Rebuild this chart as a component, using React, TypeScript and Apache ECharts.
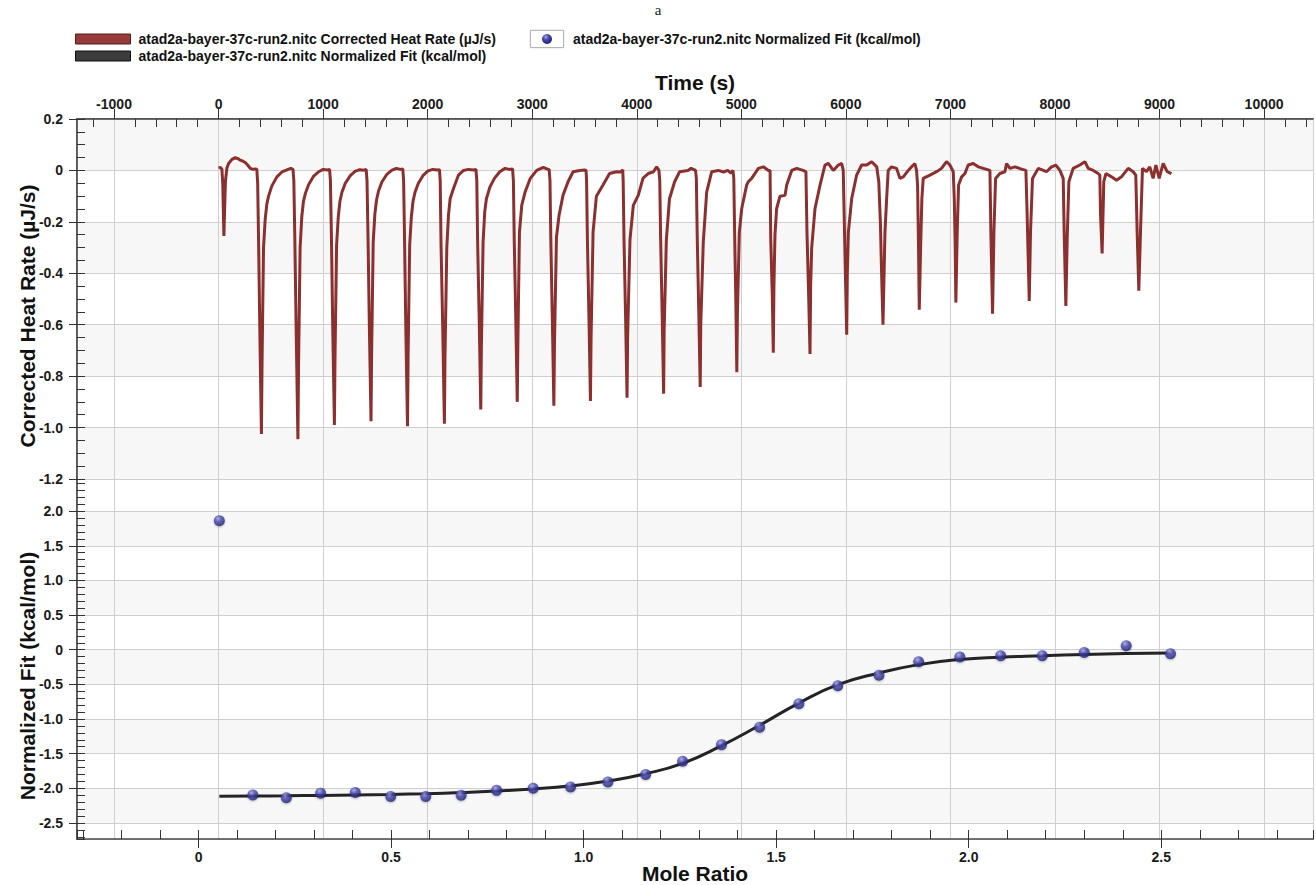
import React, { useEffect, useRef } from "react";
import * as echarts from "echarts";

const HEAT_NAME = "atad2a-bayer-37c-run2.nitc Corrected Heat Rate (µJ/s)";
const FIT_NAME = "atad2a-bayer-37c-run2.nitc Normalized Fit (kcal/mol)";

const timeRange: [number, number] = [-1354, 10468];
const heatRange: [number, number] = [-1.2, 0.2];
const ratioRange: [number, number] = [-0.3156, 2.894];
const fitRange: [number, number] = [-2.732, 2.464];

// Corrected heat rate trace [time s, µJ/s]
const heatRate: [number, number][] = [
  [0, 0.01], [18, 0.012], [32, 0.005], [40, -0.05], [51, -0.255], [58, -0.15], [66, -0.04], [80, 0.01], [96, 0.027], [128, 0.043], [160, 0.05], [185, 0.046], [207, 0.04], [232, 0.036], [255, 0.031], [280, 0.02], [303, 0.008], [330, 0.004], [351, 0.006], [366, 0.005],
  [374, -0.05], [383, -0.28], [395, -0.63], [410, -1.025], [416, -0.75], [430, -0.3], [446, -0.19], [462, -0.13], [478, -0.1], [510, -0.06], [558, -0.025], [606, -0.006], [654, 0.002], [690, 0.008], [712, 0.004],
  [720, -0.04], [730, -0.28], [743, -0.64], [759, -1.045], [765, -0.76], [780, -0.3], [796, -0.18], [812, -0.12], [830, -0.09], [862, -0.055], [910, -0.022], [958, -0.005], [1000, 0.004], [1040, 0.002], [1062, 0.004],
  [1070, -0.04], [1080, -0.27], [1092, -0.61], [1108, -0.99], [1114, -0.72], [1129, -0.29], [1145, -0.18], [1161, -0.12], [1180, -0.085], [1212, -0.05], [1260, -0.02], [1305, -0.004], [1350, 0.003], [1390, 0.001], [1412, 0.004],
  [1420, -0.04], [1430, -0.27], [1442, -0.6], [1458, -0.975], [1464, -0.71], [1479, -0.28], [1495, -0.17], [1511, -0.115], [1530, -0.08], [1562, -0.045], [1610, -0.015], [1655, 0.0], [1700, 0.008], [1740, 0.004], [1762, 0.006],
  [1770, -0.04], [1779, -0.27], [1791, -0.61], [1807, -0.995], [1813, -0.72], [1828, -0.29], [1844, -0.18], [1860, -0.12], [1879, -0.085], [1911, -0.05], [1959, -0.018], [2004, -0.002], [2050, 0.004], [2090, 0.002], [2113, 0.003],
  [2120, -0.04], [2128, -0.29], [2145, -0.63], [2160, -0.985], [2166, -0.72], [2183, -0.3], [2199, -0.174], [2215, -0.11], [2247, -0.07], [2295, -0.018], [2343, 0.0], [2390, 0.004], [2440, 0.002], [2462, 0.004],
  [2470, -0.04], [2478, -0.28], [2494, -0.6], [2508, -0.93], [2514, -0.68], [2530, -0.28], [2546, -0.16], [2562, -0.11], [2595, -0.065], [2640, -0.03], [2690, -0.005], [2740, 0.008], [2780, 0.004], [2812, 0.006],
  [2820, -0.04], [2828, -0.27], [2843, -0.58], [2857, -0.9], [2863, -0.66], [2878, -0.24], [2900, -0.135], [2932, -0.084], [2980, -0.032], [3043, 0.0], [3107, 0.012], [3150, 0.004], [3162, 0.004],
  [3170, -0.04], [3178, -0.27], [3193, -0.59], [3207, -0.915], [3213, -0.67], [3232, -0.26], [3257, -0.174], [3295, -0.096], [3343, -0.044], [3391, -0.005], [3455, 0.0], [3500, 0.002], [3515, 0.0],
  [3520, -0.04], [3528, -0.27], [3543, -0.58], [3557, -0.897], [3563, -0.65], [3582, -0.24], [3614, -0.1], [3677, -0.057], [3740, -0.012], [3805, -0.005], [3845, -0.006], [3866, 0.002],
  [3870, -0.04], [3878, -0.27], [3893, -0.57], [3907, -0.884], [3913, -0.64], [3935, -0.27], [3967, -0.136], [4015, -0.096], [4060, -0.03], [4110, -0.012], [4160, -0.005], [4190, 0.014], [4212, 0.0],
  [4220, -0.04], [4228, -0.26], [4243, -0.56], [4257, -0.868], [4262, -0.62], [4283, -0.27], [4313, -0.11], [4362, -0.044], [4410, -0.005], [4490, 0.0], [4520, 0.008], [4562, 0.0],
  [4570, -0.03], [4578, -0.25], [4593, -0.55], [4607, -0.842], [4612, -0.6], [4636, -0.28], [4669, -0.083], [4717, -0.005], [4780, 0.0], [4830, -0.006], [4870, 0.0], [4900, -0.01], [4920, 0.0],
  [4928, -0.03], [4936, -0.24], [4948, -0.52], [4957, -0.785], [4963, -0.55], [4981, -0.24], [5004, -0.148], [5051, -0.057], [5067, -0.044], [5099, -0.031], [5163, 0.008], [5211, 0.014], [5259, 0.0], [5275, 0.0],
  [5281, -0.26], [5297, -0.5], [5306, -0.709], [5312, -0.45], [5322, -0.25], [5338, -0.148], [5370, -0.1], [5418, -0.097], [5434, -0.057], [5482, 0.0], [5530, 0.008], [5590, 0.0], [5618, -0.005],
  [5628, -0.24], [5645, -0.5], [5657, -0.714], [5663, -0.45], [5673, -0.3], [5705, -0.148], [5753, -0.057], [5800, 0.021], [5832, 0.027], [5880, 0.0], [5928, 0.021], [5960, 0.027], [5975, 0.0],
  [5985, -0.2], [5998, -0.45], [6008, -0.639], [6014, -0.4], [6024, -0.24], [6056, -0.109], [6103, -0.018], [6151, 0.021], [6199, 0.021], [6247, 0.034], [6295, 0.014], [6315, -0.044],
  [6330, -0.2], [6343, -0.42], [6355, -0.6], [6374, -0.24], [6390, -0.11], [6405, 0.0], [6437, 0.014], [6485, 0.008], [6517, -0.031], [6549, -0.025], [6597, 0.0], [6629, 0.014], [6660, 0.027], [6676, 0.0],
  [6686, -0.057], [6695, -0.3], [6702, -0.542], [6715, -0.3], [6727, -0.11], [6740, -0.031], [6804, -0.018], [6868, -0.005], [6915, 0.008], [6963, 0.034], [6995, 0.021], [7027, -0.005],
  [7037, -0.11], [7046, -0.3], [7052, -0.514], [7065, -0.24], [7078, -0.057], [7107, -0.025], [7139, -0.012], [7170, 0.021], [7218, 0.027], [7266, 0.014], [7314, 0.008], [7378, 0.0],
  [7387, -0.24], [7403, -0.557], [7416, -0.24], [7432, -0.031], [7473, -0.012], [7521, -0.005], [7537, 0.027], [7569, 0.008], [7617, 0.014], [7680, 0.005], [7722, 0.0],
  [7734, -0.174], [7754, -0.508], [7766, -0.24], [7785, -0.031], [7840, 0.008], [7919, -0.005], [7967, 0.014], [8009, 0.021], [8047, 0.0], [8079, -0.031],
  [8088, -0.24], [8104, -0.527], [8117, -0.265], [8133, -0.044], [8174, 0.008], [8238, 0.021], [8286, 0.034], [8318, 0.008], [8366, 0.0], [8413, -0.012], [8429, -0.018],
  [8436, -0.174], [8451, -0.323], [8467, -0.044], [8487, -0.012], [8541, -0.025], [8589, -0.038], [8636, -0.025], [8700, 0.008], [8748, -0.005], [8773, -0.018],
  [8786, -0.24], [8802, -0.468], [8818, -0.24], [8837, 0.008], [8875, -0.005], [8907, 0.014], [8939, -0.031], [8965, 0.021], [8997, -0.031], [9035, 0.027], [9073, -0.005], [9114, -0.012],
];

// Injection mole ratios
const moleRatio = [
  0.054, 0.141, 0.228, 0.317, 0.407, 0.499, 0.59, 0.682, 0.774, 0.869, 0.966, 1.063, 1.161,
  1.257, 1.358, 1.457, 1.559, 1.66, 1.767, 1.87, 1.977, 2.083, 2.191, 2.3, 2.409, 2.524,
];
// Integrated, normalized heats (kcal/mol)
const pointValues = [
  1.86, -2.097, -2.136, -2.07, -2.06, -2.12, -2.12, -2.1, -2.03, -2.0, -1.98, -1.91, -1.8,
  -1.61, -1.37, -1.12, -0.78, -0.52, -0.37, -0.174, -0.106, -0.087, -0.087, -0.039, 0.058, -0.058,
];
// Fitted curve (kcal/mol) at the same mole ratios
const fitValues = [
  -2.116, -2.112, -2.108, -2.103, -2.097, -2.089, -2.078, -2.062, -2.04, -2.01, -1.965, -1.895, -1.79,
  -1.64, -1.385, -1.09, -0.77, -0.505, -0.335, -0.215, -0.14, -0.107, -0.087, -0.068, -0.055, -0.048,
];

const FONT = '"Liberation Sans", Arial, Helvetica, sans-serif';
const AXIS_COLOR = "#4a4a4a";
const TICK = { color: "#333", width: 1 };
const GRID_LINE = { color: "#cfcfcf", width: 1 };
const LABEL = { fontFamily: FONT, fontWeight: "bold" as const, fontSize: 14, color: "#1a1a1a" };
const NAME = { fontFamily: FONT, fontWeight: "bold" as const, fontSize: 21, color: "#111" };

const fmt1 = (v: number) => (Math.abs(v) < 1e-9 ? "0" : v.toFixed(1));
const fmtT = (v: number) => String(Math.round(v));

export default function App() {
  const ref = useRef<HTMLDivElement>(null);

  useEffect(() => {
    if (!ref.current) return;
    const chart = echarts.init(ref.current, null, { renderer: "svg" });

    const sphere = () =>
      new echarts.graphic.RadialGradient(0.38, 0.3, 0.75, [
        { offset: 0, color: "#a4a4e4" },
        { offset: 0.4, color: "#4848ac" },
        { offset: 1, color: "#1c1c6c" },
      ]);

    const hiddenAxisBits = {
      axisLine: { show: false, onZero: false },
      axisLabel: { show: false },
      splitLine: { show: false },
      splitArea: { show: false },
    };

    const option: any = {
      animation: false,
      backgroundColor: "#ffffff",
      title: {
        text: "a",
        left: "center",
        top: 2,
        padding: 0,
        textStyle: { fontFamily: '"Liberation Serif", "Times New Roman", serif', fontWeight: "normal", fontSize: 15, color: "#222" },
      },
      legend: [
        {
          orient: "vertical",
          left: 75,
          top: 32,
          padding: 0,
          itemWidth: 55,
          itemHeight: 10,
          itemGap: 3,
          selectedMode: false,
          textStyle: { fontFamily: FONT, fontWeight: "bold", fontSize: 14, color: "#111", padding: [0, 0, 0, 3] },
          data: [
            { name: HEAT_NAME, icon: "rect", itemStyle: { color: "#973a3a", borderColor: "#5a1a1a", borderWidth: 1 } },
            { name: FIT_NAME, icon: "rect", itemStyle: { color: "#3c3c3c", borderColor: "#111", borderWidth: 1 } },
          ],
        },
        {
          left: 542,
          top: 32,
          padding: 0,
          itemWidth: 10,
          itemHeight: 10,
          selectedMode: false,
          textStyle: { fontFamily: FONT, fontWeight: "bold", fontSize: 14, color: "#111", padding: [0, 0, 0, 16] },
          data: [{ name: FIT_NAME, icon: "circle", itemStyle: { color: sphere(), borderWidth: 0 } }],
        },
      ],
      graphic: [
        {
          type: "rect",
          left: 530,
          top: 30,
          z: 0,
          shape: { width: 33, height: 17 },
          style: { fill: "#ffffff", stroke: "#b5b5b5", lineWidth: 1, shadowBlur: 2, shadowColor: "rgba(0,0,0,0.15)" },
        },
      ],
      grid: [
        { left: 77, top: 119, width: 1236, height: 360, show: true, borderColor: AXIS_COLOR, borderWidth: 1.5, backgroundColor: "transparent" },
        { left: 77, top: 479, width: 1236, height: 360, show: true, borderColor: AXIS_COLOR, borderWidth: 1.5, backgroundColor: "transparent" },
      ],
      xAxis: [
        {
          type: "value",
          gridIndex: 0,
          position: "top",
          min: timeRange[0],
          max: timeRange[1],
          splitNumber: 12,
          name: "Time (s)",
          nameLocation: "middle",
          nameGap: 26,
          nameMoveOverlap: false,
          nameTextStyle: NAME,
          axisLine: { show: true, onZero: false, lineStyle: { color: AXIS_COLOR, width: 1.5 } },
          axisTick: { show: true, inside: false, length: 10, lineStyle: TICK },
          axisLabel: { ...LABEL, margin: 8, showMinLabel: false, showMaxLabel: false, formatter: fmtT },
          splitLine: { show: true, lineStyle: GRID_LINE },
        },
        {
          type: "value",
          gridIndex: 0,
          position: "top",
          min: timeRange[0],
          max: timeRange[1],
          splitNumber: 12,
          ...hiddenAxisBits,
          axisTick: { show: false, inside: true },
          minorTick: { show: true, splitNumber: 5, length: 8, lineStyle: TICK },
        },
        {
          type: "value",
          gridIndex: 1,
          position: "bottom",
          min: ratioRange[0],
          max: ratioRange[1],
          splitNumber: 6,
          name: "Mole Ratio",
          nameLocation: "middle",
          nameGap: 24,
          nameMoveOverlap: false,
          nameTextStyle: NAME,
          axisLine: { show: true, onZero: false, lineStyle: { color: AXIS_COLOR, width: 1.5 } },
          axisTick: { show: true, inside: false, length: 9, lineStyle: TICK },
          axisLabel: { ...LABEL, margin: 11, showMinLabel: false, showMaxLabel: false, formatter: fmt1 },
          splitLine: { show: false },
        },
        {
          type: "value",
          gridIndex: 1,
          position: "bottom",
          min: ratioRange[0],
          max: ratioRange[1],
          splitNumber: 6,
          ...hiddenAxisBits,
          axisTick: { show: true, inside: true, length: 9, lineStyle: TICK },
          minorTick: { show: true, splitNumber: 5, length: 9, lineStyle: TICK },
        },
        {
          type: "value",
          gridIndex: 1,
          position: "top",
          min: timeRange[0],
          max: timeRange[1],
          splitNumber: 12,
          axisLine: { show: false, onZero: false },
          axisTick: { show: false },
          axisLabel: { show: false },
          splitLine: { show: true, lineStyle: GRID_LINE },
        },
      ],
      yAxis: [
        {
          type: "value",
          gridIndex: 0,
          position: "left",
          min: heatRange[0],
          max: heatRange[1],
          interval: 0.2,
          name: "Corrected Heat Rate (µJ/s)",
          nameLocation: "middle",
          nameRotate: 90,
          nameGap: 39,
          nameMoveOverlap: false,
          nameTextStyle: { ...NAME, padding: [0, 34, 0, 0] },
          axisLine: { show: true, onZero: false, lineStyle: { color: AXIS_COLOR, width: 1.5 } },
          axisTick: { show: true, inside: false, length: 8, lineStyle: TICK },
          axisLabel: { ...LABEL, margin: 14, formatter: fmt1 },
          splitLine: { show: true, lineStyle: GRID_LINE },
          splitArea: { show: true, areaStyle: { color: ["#f7f7f7", "#ffffff"] } },
        },
        {
          type: "value",
          gridIndex: 0,
          position: "left",
          min: heatRange[0],
          max: heatRange[1],
          interval: 0.2,
          ...hiddenAxisBits,
          axisTick: { show: true, inside: true, length: 8, lineStyle: TICK },
          minorTick: { show: true, splitNumber: 4, length: 8, lineStyle: TICK },
        },
        {
          type: "value",
          gridIndex: 1,
          position: "left",
          min: fitRange[0],
          max: fitRange[1],
          splitNumber: 10,
          name: "Normalized Fit (kcal/mol)",
          nameLocation: "middle",
          nameRotate: 90,
          nameGap: 39,
          nameMoveOverlap: false,
          nameTextStyle: { ...NAME, padding: [0, 34, 0, 0] },
          axisLine: { show: true, onZero: false, lineStyle: { color: AXIS_COLOR, width: 1.5 } },
          axisTick: { show: true, inside: false, length: 8, lineStyle: TICK },
          axisLabel: { ...LABEL, margin: 14, showMinLabel: false, showMaxLabel: false, formatter: fmt1 },
          splitLine: { show: true, lineStyle: GRID_LINE },
          splitArea: { show: true, areaStyle: { color: ["#ffffff", "#f7f7f7"] } },
        },
        {
          type: "value",
          gridIndex: 1,
          position: "left",
          min: fitRange[0],
          max: fitRange[1],
          splitNumber: 10,
          ...hiddenAxisBits,
          axisTick: { show: true, inside: true, length: 8, lineStyle: TICK },
          minorTick: { show: true, splitNumber: 5, length: 8, lineStyle: TICK },
        },
      ],
      series: [
        {
          name: HEAT_NAME,
          type: "line",
          xAxisIndex: 0,
          yAxisIndex: 0,
          data: heatRate,
          showSymbol: false,
          symbol: "none",
          lineStyle: { color: "#8b2f2f", width: 3 },
          itemStyle: { color: "#8b2f2f" },
          z: 3,
        },
        {
          name: FIT_NAME,
          type: "line",
          xAxisIndex: 2,
          yAxisIndex: 2,
          data: moleRatio.map((r, i) => [r, fitValues[i]]),
          smooth: true,
          showSymbol: false,
          symbol: "none",
          lineStyle: { color: "#242424", width: 3 },
          itemStyle: { color: "#242424" },
          z: 3,
        },
        {
          name: FIT_NAME,
          type: "scatter",
          xAxisIndex: 2,
          yAxisIndex: 2,
          data: moleRatio.map((r, i) => [r, pointValues[i]]),
          symbol: "circle",
          symbolSize: 11,
          itemStyle: { color: sphere(), shadowBlur: 2, shadowColor: "rgba(0,0,0,0.3)", shadowOffsetY: 1 },
          z: 4,
        },
      ],
    };

    chart.setOption(option);
    return () => chart.dispose();
  }, []);

  return (
    <div
      ref={ref}
      style={{ position: "absolute", left: 0, top: 0, width: 1316, height: 885, background: "#fff" }}
    />
  );
}
